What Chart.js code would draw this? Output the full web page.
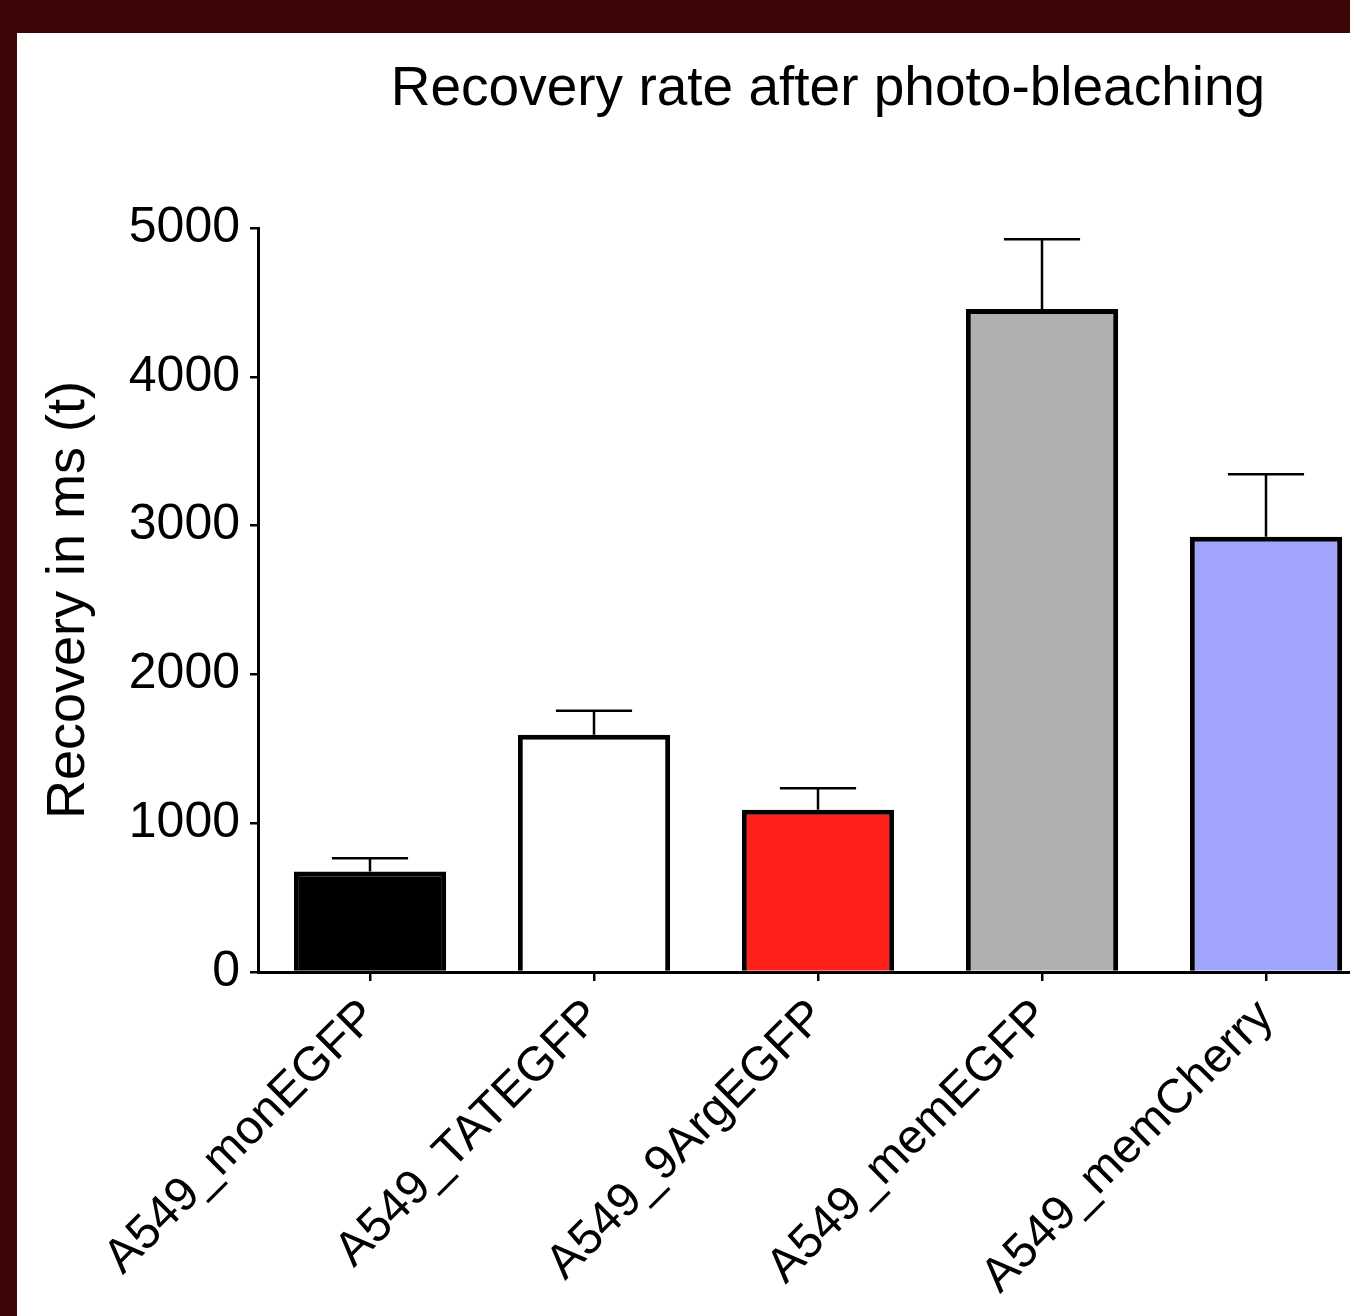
<!DOCTYPE html>
<html>
<head>
<meta charset="utf-8">
<title>Recovery rate after photo-bleaching</title>
<script src="https://cdn.jsdelivr.net/npm/chart.js@4.4.1/dist/chart.umd.min.js"></script>
<style>
  html, body { margin: 0; padding: 0; overflow: hidden; background: #3d0607; width: 1350px; height: 1316px; }
  #panel { position: absolute; left: 17px; top: 33px; width: 1333px; height: 1283px; background: #fff; overflow: hidden; }
  #chart { position: absolute; left: 0; top: 0; }
</style>
</head>
<body>
<div id="panel"><canvas id="chart" width="1400" height="1283"></canvas></div>
<script>
// data
const cellLines = ['A549_monEGFP', 'A549_TATEGFP', 'A549_9ArgEGFP', 'A549_memEGFP', 'A549_memCherry'];
const recoveryMean = [675, 1595, 1090, 4455, 2925];
const recoveryErr = [90, 160, 145, 470, 420];
const barColors = ['#000000', '#ffffff', '#ff201a', '#b0b0b2', '#a0a4fa'];
const yTicks = [0, 1000, 2000, 3000, 4000, 5000];

Chart.defaults.font.family = '"Liberation Sans", Arial, Helvetica, sans-serif';
Chart.defaults.color = '#000';

// upper whisker only, like the prism plot
const errorBars = {
  id: 'errorBars',
  afterDatasetsDraw(chart) {
    const ctx = chart.ctx;
    const y = chart.scales.y;
    const meta = chart.getDatasetMeta(0);
    ctx.save();
    ctx.strokeStyle = '#000';
    ctx.lineWidth = 2.5;
    meta.data.forEach((bar, i) => {
      const top = y.getPixelForValue(recoveryMean[i] + recoveryErr[i]);
      const half = bar.width / 4;
      ctx.beginPath();
      ctx.moveTo(bar.x, bar.y);
      ctx.lineTo(bar.x, top);
      ctx.moveTo(bar.x - half, top);
      ctx.lineTo(bar.x + half, top);
      ctx.stroke();
    });
    ctx.restore();
  }
};

// the title sits a bit right of the plot centre
const titleShift = {
  id: 'titleShift',
  afterLayout(chart) {
    const t = chart.titleBlock;
    if (t) { t.left += 10; t.right += 10; }
  }
};

new Chart(document.getElementById('chart'), {
  type: 'bar',
  data: {
    labels: cellLines,
    datasets: [{
      data: recoveryMean,
      backgroundColor: barColors,
      borderColor: '#000',
      borderWidth: 5,
      barPercentage: 0.68,
      categoryPercentage: 1
    }]
  },
  options: {
    responsive: false,
    animation: false,
    layout: { padding: { left: 0, right: 39, top: 0, bottom: 0 } },
    plugins: {
      legend: { display: false },
      tooltip: { enabled: false },
      title: {
        display: true,
        text: 'Recovery rate after photo-bleaching',
        color: '#000',
        fullSize: false,
        font: { size: 55, weight: 'normal', lineHeight: 1.2 },
        padding: { top: 24, bottom: 105 }
      }
    },
    scales: {
      x: {
        z: 1,
        offset: true,
        grid: { display: true, drawOnChartArea: false, offset: false, tickLength: 9, color: '#000', lineWidth: 2.5 },
        border: { display: true, color: '#000', width: 3 },
        ticks: { minRotation: 45, maxRotation: 45, autoSkip: false, padding: 8, color: '#000', font: { size: 48 } },
        afterFit(scale) { scale.height = 344; }
      },
      y: {
        z: 1,
        min: 0,
        max: 5000,
        afterBuildTicks(scale) { scale.ticks = yTicks.map(v => ({ value: v })); },
        grid: { display: true, drawOnChartArea: false, tickLength: 8, color: '#000', lineWidth: 2.5 },
        border: { display: true, color: '#000', width: 3 },
        ticks: { padding: 10, color: '#000', font: { size: 50 }, callback: v => String(v) },
        title: {
          display: true,
          text: 'Recovery in ms (t)',
          color: '#000',
          font: { size: 54, weight: 'normal', lineHeight: 1.2 },
          padding: { top: 20, bottom: 0 }
        },
        afterFit(scale) { scale.width = 241; }
      }
    }
  },
  plugins: [errorBars, titleShift]
});
</script>
</body>
</html>
